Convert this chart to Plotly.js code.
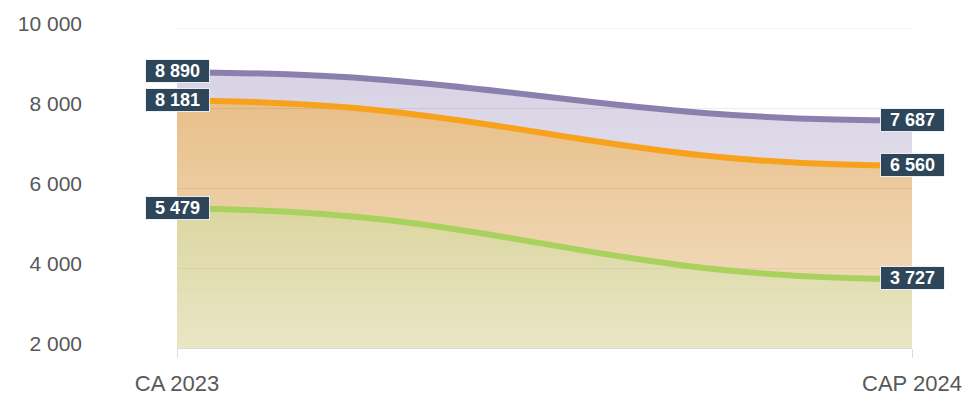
<!DOCTYPE html>
<html>
<head>
<meta charset="utf-8">
<script src="https://cdn.plot.ly/plotly-3.0.1.min.js"></script>
<style>
  html, body { margin: 0; padding: 0; background: #ffffff; }
  #chart { width: 969px; height: 395px; }
</style>
</head>
<body>
<div id="chart"></div>
<script>
// Periods on the horizontal axis
const periods = ['CA 2023', 'CAP 2024'];

// Series values, one per period (drawn back to front)
const totalValues  = [8890, 7687];
const middleValues = [8181, 6560];
const lowerValues  = [5479, 3727];

// Vertical axis
const yRange = [2000, 10000];
const yStep = 2000;

// Per-series styling
const series = [
  { values: totalValues,  line: '#8b80ad', fill: '#d4cfe2' },
  { values: middleValues, line: '#f7a11c', fill: '#e4b576' },
  { values: lowerValues,  line: '#a8d15e', fill: '#c9c16f' }
];

const xPos = periods.map((_, i) => i);
const bend = 0.45;   // horizontal reach of the Bezier handles

function curve(x0, y0, x1, y1) {
  const d = (x1 - x0) * bend;
  return `M${x0},${y0} C${x0 + d},${y0} ${x1 - d},${y1} ${x1},${y1}`;
}

function fmt(v) {
  return String(v).replace(/\B(?=(\d{3})+(?!\d))/g, ' ');
}

const shapes = [];
series.forEach(s => {
  const [x0, x1] = [xPos[0], xPos[1]];
  const [y0, y1] = s.values;
  // filled area down to the bottom of the axis
  shapes.push({
    type: 'path', xref: 'x', yref: 'y', layer: 'below',
    path: curve(x0, y0, x1, y1) + ` L${x1},${yRange[0]} L${x0},${yRange[0]} Z`,
    fillcolor: s.fill, line: { width: 0 }
  });
});
// top grid line along the upper edge of the plot
shapes.push({
  type: 'line', xref: 'paper', yref: 'y', layer: 'below',
  x0: 0, x1: 1, y0: yRange[1], y1: yRange[1],
  line: { color: 'rgba(0,0,0,0.09)', width: 1 }
});
series.forEach(s => {
  const [x0, x1] = [xPos[0], xPos[1]];
  const [y0, y1] = s.values;
  shapes.push({
    type: 'path', xref: 'x', yref: 'y', layer: 'above',
    path: curve(x0, y0, x1, y1),
    line: { color: s.line, width: 6 }
  });
});

// Value labels at each point
const annotations = [];
series.forEach(s => {
  s.values.forEach((v, i) => {
    annotations.push({
      x: xPos[i], y: v, xref: 'x', yref: 'y',
      text: fmt(v), showarrow: false,
      xanchor: 'center', yanchor: 'middle', yshift: 1,
      width: 59, height: 18, borderpad: 2, borderwidth: 1,
      bgcolor: '#2d4659', bordercolor: 'rgba(255,255,255,0.85)',
      font: { family: 'Liberation Sans, Arial, sans-serif', size: 18, color: '#ffffff', weight: 'bold' }
    });
  });
});

// Soft white wash that lightens the areas towards the bottom
const wash = {
  type: 'scatter', mode: 'lines',
  x: [xPos[0], xPos[1], xPos[1], xPos[0]],
  y: [yRange[0], yRange[0], yRange[1], yRange[1]],
  fill: 'toself', line: { width: 0 },
  fillgradient: {
    type: 'vertical', start: yRange[0], stop: yRange[1],
    colorscale: [[0, 'rgba(255,255,255,0.6)'], [1, 'rgba(255,255,255,0)']]
  },
  hoverinfo: 'skip', showlegend: false
};

const layout = {
  width: 969, height: 395,
  margin: { l: 177, r: 57, t: 28, b: 47 },
  paper_bgcolor: '#ffffff', plot_bgcolor: 'rgba(0,0,0,0)',
  separators: ', ',
  showlegend: false,
  font: { family: 'Liberation Sans, Arial, sans-serif', color: '#585858' },
  xaxis: {
    type: 'linear', range: [xPos[0], xPos[xPos.length - 1]],
    tickvals: xPos, ticktext: periods,
    showgrid: false, zeroline: false,
    showline: true, linecolor: '#dcdcdc', linewidth: 1,
    ticks: 'outside', ticklen: 9, tickcolor: '#dcdcdc', tickwidth: 1,
    ticklabelstandoff: 7,
    tickfont: { size: 22, color: '#585858' },
    automargin: false, fixedrange: true
  },
  yaxis: {
    range: yRange, dtick: yStep, tick0: yRange[0],
    tickformat: ',d',
    showgrid: true, gridcolor: 'rgba(0,0,0,0.09)', gridwidth: 1,
    zeroline: false, showline: false, ticks: '',
    ticklabelstandoff: 94, ticklabelshift: -4,
    tickfont: { size: 21, color: '#585858' },
    automargin: false, fixedrange: true
  },
  shapes: shapes,
  annotations: annotations
};

Plotly.newPlot('chart', [wash], layout, { staticPlot: true, displayModeBar: false });
</script>
</body>
</html>
